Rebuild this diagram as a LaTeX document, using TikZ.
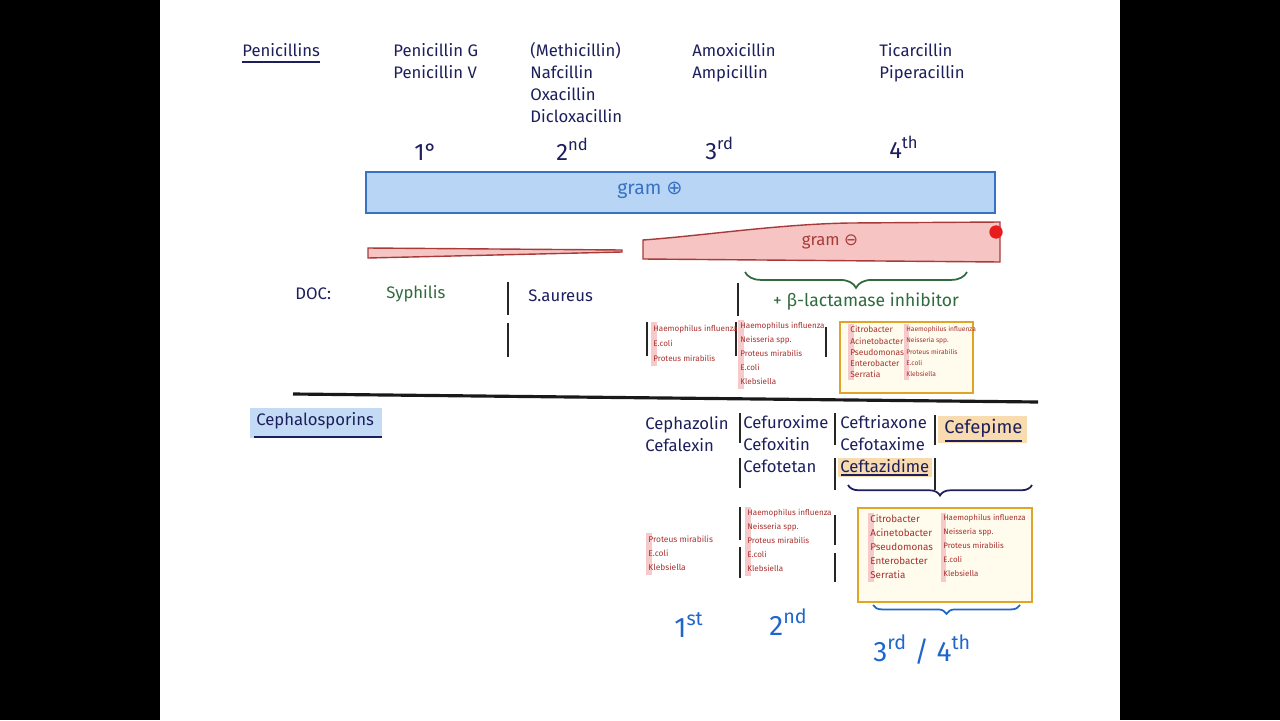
\documentclass[tikz,border=0pt]{standalone}
\usepackage{fontspec}
\setmainfont{Fira Sans}
\newfontfamily\symfont{DejaVu Sans}
\usetikzlibrary{decorations.pathreplacing}
\definecolor{inknavy}{HTML}{1C1F5C}
\definecolor{inkgreen}{HTML}{2F6B3C}
\definecolor{inkred}{HTML}{A8302E}
\definecolor{inkblue}{HTML}{1F66CC}
\definecolor{stripred}{HTML}{F6CACA}
\definecolor{barblue}{HTML}{B8D5F6}
\definecolor{edgeblue}{HTML}{3872C2}
\definecolor{barred}{HTML}{F6C4C2}
\definecolor{edgered}{HTML}{A83A3A}
\definecolor{dotred}{HTML}{E81C1C}
\definecolor{boxorange}{HTML}{E0A428}
\definecolor{boxcream}{HTML}{FFFCEE}
\definecolor{markorange}{HTML}{F9DBB0}
\definecolor{markblue}{HTML}{C4DBF5}

\begin{document}
\begin{tikzpicture}[
    x=0.02cm, y=-0.02cm,
    drug/.style={font=\fontsize{9.5}{12.6}\selectfont, text=inknavy,
                 align=left, inner sep=0pt, anchor=north west},
    gen/.style={font=\fontsize{13.5}{15}\selectfont, text=#1,
                inner sep=0pt, anchor=base west},
    bugs/.style n args={2}{font=\fontsize{#1}{#2}\selectfont, text=inkred,
                 align=left, inner sep=0pt, anchor=north west},
    sep/.style={line width=1.3pt, draw=black!85},
    strip/.style={fill=stripred},
    bugbox/.style={draw=boxorange, line width=1.1pt, fill=boxcream},
    curly/.style={decorate, decoration={brace, mirror, amplitude=#1},
                  line width=1pt},
  ]
  \useasboundingbox (0,0) rectangle (1280,720);
  \fill[black] (0,0) rectangle (160,720);
  \fill[black] (1120,0) rectangle (1280,720);

  % Penicillins
  \node[drug] (peni) at (242,43) {Penicillins};
  \draw[inknavy, line width=0.9pt] ([yshift=-3pt]peni.south west) -- ([yshift=-3pt]peni.south east);
  \node[drug] (pen1) at (393,43) {Penicillin G\\Penicillin V};
  \node[drug] (pen2) at (530,42) {(Methicillin)\\Nafcillin\\Oxacillin\\Dicloxacillin};
  \node[drug] (pen3) at (692,43) {Amoxicillin\\Ampicillin};
  \node[drug] (pen4) at (879,43) {Ticarcillin\\Piperacillin};

  \node[gen=inknavy] (gen1) at (414,160) {1°};
  \node[gen=inknavy] (gen2) at (556,160) {2\textsuperscript{nd}};
  \node[gen=inknavy] (gen3) at (705,159) {3\textsuperscript{rd}};
  \node[gen=inknavy] (gen4) at (889,158) {4\textsuperscript{th}};

  % gram bars
  \draw[edgeblue, fill=barblue, line width=1pt] (366,172) rectangle (995,213);
  \node[text=edgeblue, font=\fontsize{11}{13}\selectfont] (gramp) at (650,190) {gram {\symfont ⊕}};
  \draw[edgered, fill=barred, line width=0.8pt]
    (368,248) -- (622,250) -- (622,252) -- (368,258) -- cycle;
  \draw[edgered, fill=barred, line width=0.8pt]
    (643,240) .. controls (700,236) and (780,224) .. (850,223)
    -- (1000,222) -- (1000,262) -- (643,259) -- cycle;
  \fill[dotred] (996,232) circle (3.8pt);
  \node[text=edgered, font=\fontsize{9.5}{11}\selectfont] (gramn) at (830,242) {gram {\symfont ⊖}};

  % drugs of choice
  \node[drug] (doc) at (295,287) {DOC:};
  \node[drug, text=inkgreen] (syph) at (386,285) {Syphilis};
  \node[drug] (saur) at (528,289) {S.aureus};
  \draw[curly=9pt, inkgreen] (745,272) -- (967,272);
  \node[text=inkgreen, font=\fontsize{10}{12}\selectfont] (blac) at (866,302) {+ β-lactamase inhibitor};

  \foreach \x/\ya/\yb in {508/282/315, 508/323/357, 738/283/316, 647/322/356,
                          736/322/356, 826/327/357, 740/413/443, 740/458/488,
                          835/413/445, 835/458/490, 935/415/445, 935/458/490,
                          740/507/540, 740/547/578, 835/515/545, 835/553/582}
    \draw[sep] (\x,\ya) -- (\x,\yb);

  % bug lists, penicillins
  \draw[bugbox] (840,322) rectangle (973,393);
  \fill[strip] (651,322) rectangle (657,366);
  \fill[strip] (738,320) rectangle (744,389);
  \fill[strip] (848,324) rectangle (854,380);
  \fill[strip] (904,324) rectangle (909,380);
  \node[bugs={4.6}{8.5}] (pbug3) at (653,325)
    {Haemophilus influenza\\E.coli\\Proteus mirabilis};
  \node[bugs={4.6}{7.9}] (pbug4) at (740,322)
    {Haemophilus influenza\\Neisseria spp.\\Proteus mirabilis\\E.coli\\Klebsiella};
  \node[bugs={4.8}{6.4}] (pbox1) at (850,326)
    {Citrobacter\\Acinetobacter\\Pseudomonas\\Enterobacter\\Serratia};
  \node[bugs={3.8}{6.4}] (pbox2) at (906,326)
    {Haemophilus influenza\\Neisseria spp.\\Proteus mirabilis\\E.coli\\Klebsiella};

  \draw[line width=1.8pt, black!90] (293,394) -- (1038,402);

  % Cephalosporins
  \fill[markblue] (250,408) rectangle (382,438);
  \node[drug] (cephs) at (256,412) {Cephalosporins};
  \draw[inknavy, line width=0.9pt] (254,437) -- (382,437);
  \fill[markorange] (838,458) rectangle (932,477);
  \fill[markorange] (938,416) rectangle (1027,443);
  \node[drug] (ceph1) at (645,416) {Cephazolin\\Cefalexin};
  \node[drug] (ceph2) at (743,415) {Cefuroxime\\Cefoxitin\\Cefotetan};
  \node[drug] (ceph3) at (840,415) {Ceftriaxone\\Cefotaxime\\Ceftazidime};
  \draw[inknavy, line width=0.6pt] (841,475) -- (928,475);
  \node[drug, font=\fontsize{10.5}{12}\selectfont] (ceph4) at (944,419) {Cefepime};
  \draw[inknavy, line width=0.6pt] (945,441) -- (1022,441);
  \draw[curly=6pt, inknavy] (848,485) -- (1032,485);

  % bug lists, cephalosporins
  \draw[bugbox] (858,508) rectangle (1032,602);
  \fill[strip] (646,533) rectangle (652,575);
  \fill[strip] (745,507) rectangle (751,576);
  \fill[strip] (868,513) rectangle (874,582);
  \fill[strip] (941,513) rectangle (946,582);
  \node[bugs={4.8}{7.9}] (cbug1) at (648,536)
    {Proteus mirabilis\\E.coli\\Klebsiella};
  \node[bugs={4.6}{7.9}] (cbug2) at (747,509)
    {Haemophilus influenza\\Neisseria spp.\\Proteus mirabilis\\E.coli\\Klebsiella};
  \node[bugs={5.6}{8}] (cbox1) at (870,514)
    {Citrobacter\\Acinetobacter\\Pseudomonas\\Enterobacter\\Serratia};
  \node[bugs={4.5}{8}] (cbox2) at (943,514)
    {Haemophilus influenza\\Neisseria spp.\\Proteus mirabilis\\E.coli\\Klebsiella};
  \draw[curly=5pt, inkblue] (873,605) -- (1020,605);

  \node[gen=inkblue, font=\fontsize{16}{18}\selectfont] (cgen1) at (674,637) {1\textsuperscript{st}};
  \node[gen=inkblue, font=\fontsize{16}{18}\selectfont] (cgen2) at (769,635) {2\textsuperscript{nd}};
  \node[gen=inkblue, font=\fontsize{16}{18}\selectfont] (cgen34) at (873,661) {3\textsuperscript{rd} / 4\textsuperscript{th}};
\end{tikzpicture}
\end{document}
